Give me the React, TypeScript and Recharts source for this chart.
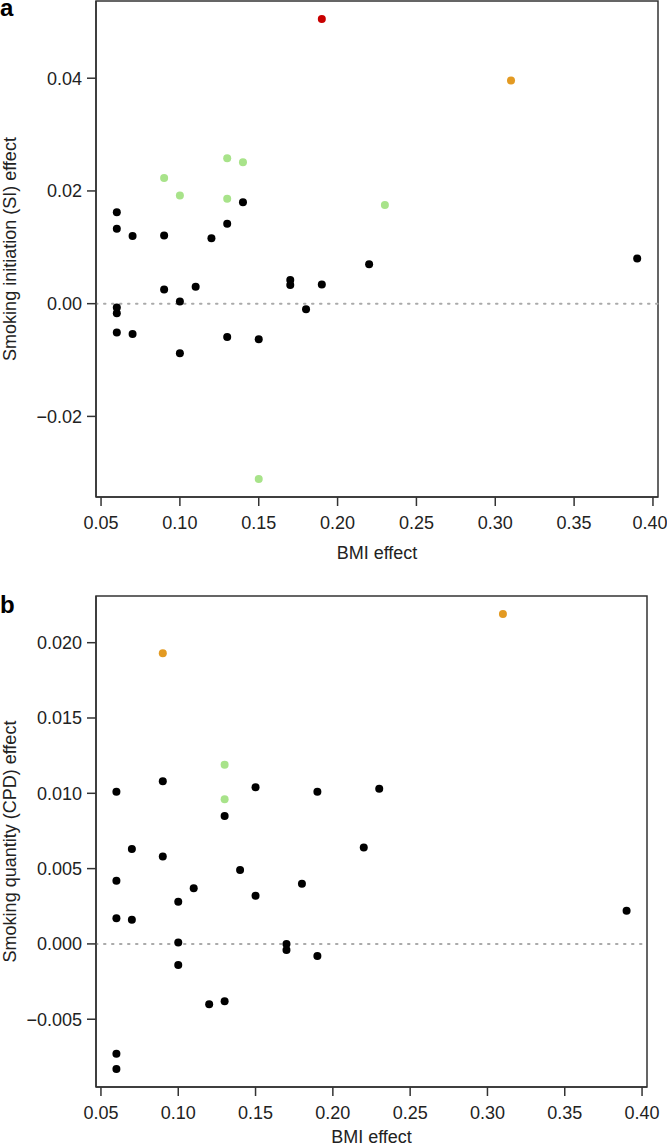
import { ScatterChart, Scatter, XAxis, YAxis, ReferenceLine, ReferenceArea, Label } from 'recharts'

// BMI effect (x) vs smoking effect (y), one pair per SNP
const siBlack = [
  [0.06, 0.0162], [0.06, 0.0133], [0.07, 0.012], [0.09, 0.0121], [0.12, 0.0116], [0.13, 0.0142],
  [0.14, 0.018], [0.39, 0.008], [0.22, 0.007], [0.17, 0.0042], [0.17, 0.0033], [0.19, 0.0034],
  [0.09, 0.0025], [0.11, 0.003], [0.1, 0.0004], [0.06, -0.0007], [0.06, -0.0017], [0.18, -0.001],
  [0.06, -0.0051], [0.07, -0.0054], [0.13, -0.0059], [0.15, -0.0063], [0.1, -0.0088],
]
const siGreen = [
  [0.09, 0.0223], [0.13, 0.0258], [0.14, 0.0251], [0.1, 0.0192], [0.13, 0.0186], [0.23, 0.0175], [0.15, -0.0311],
]
const siOrange = [[0.31, 0.0396]]
const siRed = [[0.19, 0.0505]]

const cpdBlack = [
  [0.09, 0.0108], [0.06, 0.0101], [0.15, 0.0104], [0.19, 0.0101], [0.23, 0.0103], [0.13, 0.0085],
  [0.07, 0.0063], [0.22, 0.0064], [0.09, 0.0058], [0.14, 0.0049], [0.06, 0.0042], [0.18, 0.004],
  [0.11, 0.0037], [0.15, 0.0032], [0.1, 0.0028], [0.39, 0.0022], [0.06, 0.0017], [0.07, 0.0016],
  [0.1, 0.0001], [0.17, 0.0], [0.17, -0.0004], [0.19, -0.0008], [0.1, -0.0014], [0.13, -0.0038],
  [0.12, -0.004], [0.06, -0.0073], [0.06, -0.0083],
]
const cpdGreen = [[0.13, 0.0119], [0.13, 0.0096]]
const cpdOrange = [[0.31, 0.0219], [0.09, 0.0193]]

const xTicks = [0.05, 0.1, 0.15, 0.2, 0.25, 0.3, 0.35, 0.4]
const siTicks = [-0.02, 0, 0.02, 0.04]
const cpdTicks = [-0.005, 0, 0.005, 0.01, 0.015, 0.02]

const xDomain: [number, number] = [0.0468, 0.4032]
const siDomain: [number, number] = [-0.0343, 0.0537]
const cpdDomain: [number, number] = [-0.0095, 0.0231]

const BLACK = '#000000'
const GREEN = '#a8e38a'
const ORANGE = '#e39a22'
const RED = '#c80000'

const toPoints = (arr: number[][]) => arr.map(([x, y]) => ({ x, y }))
const fmt = (digits: number) => (v: number) => (v < 0 ? '\u2212' : '') + Math.abs(v).toFixed(digits)

const dot = (color: string) => (p: any) => <circle cx={p.cx} cy={p.cy} r={4} fill={color} />

// x tick label, nudged left when it would run past the page edge
const xTick = (p: any) => {
  const label = fmt(2)(p.payload.value)
  const x = Math.min(p.x, 667 - 17)
  return (
    <text x={x} y={p.y} dy="0.71em" textAnchor="middle" fontSize={18} fill="#222">
      {label}
    </text>
  )
}

interface PanelProps {
  series: Array<{ data: number[][]; color: string }>
  yDomain: [number, number]
  yTicks: number[]
  yDigits: number
  yLabel: string
  letter: string
  letterTop: number
  width: number
  height: number
  margin: { top: number; right: number; bottom: number; left: number }
  xAxisHeight: number
  xLabelDy: number
}

function Panel({ series, yDomain, yTicks, yDigits, yLabel, letter, letterTop, width, height, margin, xAxisHeight, xLabelDy }: PanelProps) {
  const tick = { fill: '#222', fontSize: 18 }
  return (
    <div style={{ position: 'relative', width, height }}>
      <ScatterChart width={width} height={height} margin={margin}>
        <XAxis
          type="number"
          dataKey="x"
          domain={xDomain}
          ticks={xTicks}
          interval={0}
          allowDataOverflow
          tick={xTick}
          tickSize={9}
          tickMargin={10}
          height={xAxisHeight}
          stroke="#333"
          strokeWidth={1.5}
        >
          <Label
            content={(p: any) => (
              <text x={p.viewBox.x + p.viewBox.width / 2} y={p.viewBox.y + xLabelDy} textAnchor="middle" fontSize={18} fill="#222">
                BMI effect
              </text>
            )}
          />
        </XAxis>
        <YAxis
          type="number"
          dataKey="y"
          domain={yDomain}
          ticks={yTicks}
          interval={0}
          allowDataOverflow
          tickFormatter={fmt(yDigits)}
          tick={tick}
          tickSize={9}
          tickMargin={5}
          width={96}
          stroke="#333"
          strokeWidth={1.5}
        >
          <Label
            content={(p: any) => {
              const cy = p.viewBox.y + p.viewBox.height / 2
              return (
                <text x={16} y={cy} transform={`rotate(-90, 16, ${cy})`} textAnchor="middle" fontSize={18} fill="#222">
                  {yLabel}
                </text>
              )
            }}
          />
        </YAxis>
        <ReferenceArea
          x1={xDomain[0]}
          x2={xDomain[1]}
          y1={yDomain[0]}
          y2={yDomain[1]}
          fill="none"
          fillOpacity={0}
          stroke="#333"
          strokeWidth={1.5}
          ifOverflow="visible"
        />
        <ReferenceLine y={0} stroke="#aaa" strokeWidth={2} strokeDasharray="1.5 6.5" strokeLinecap="round" />
        {series.map((s, i) => (
          <Scatter key={i} data={toPoints(s.data)} fill={s.color} shape={dot(s.color)} isAnimationActive={false} />
        ))}
      </ScatterChart>
      <div style={{ position: 'absolute', left: 0, top: letterTop, fontSize: 24, fontWeight: 'bold', lineHeight: '16px' }}>
        {letter}
      </div>
    </div>
  )
}

export default function App() {
  return (
    <div
      style={{
        position: 'absolute',
        left: 0,
        top: 0,
        width: 667,
        height: 1148,
        background: '#fff',
        fontFamily: '"Liberation Sans", Arial, sans-serif',
        overflow: 'hidden',
      }}
    >
      <Panel
        series={[
          { data: siBlack, color: BLACK },
          { data: siGreen, color: GREEN },
          { data: siOrange, color: ORANGE },
          { data: siRed, color: RED },
        ]}
        yDomain={siDomain}
        yTicks={siTicks}
        yDigits={2}
        yLabel="Smoking initiation (SI) effect"
        letter="a"
        letterTop={0}
        width={667}
        height={575}
        margin={{ top: 1, right: 9, bottom: 0, left: 0 }}
        xAxisHeight={78}
        xLabelDy={62}
      />
      <Panel
        series={[
          { data: cpdBlack, color: BLACK },
          { data: cpdGreen, color: GREEN },
          { data: cpdOrange, color: ORANGE },
        ]}
        yDomain={cpdDomain}
        yTicks={cpdTicks}
        yDigits={3}
        yLabel="Smoking quantity (CPD) effect"
        letter="b"
        letterTop={22}
        width={667}
        height={573}
        margin={{ top: 21, right: 20, bottom: 0, left: 0 }}
        xAxisHeight={61}
        xLabelDy={56}
      />
    </div>
  )
}
